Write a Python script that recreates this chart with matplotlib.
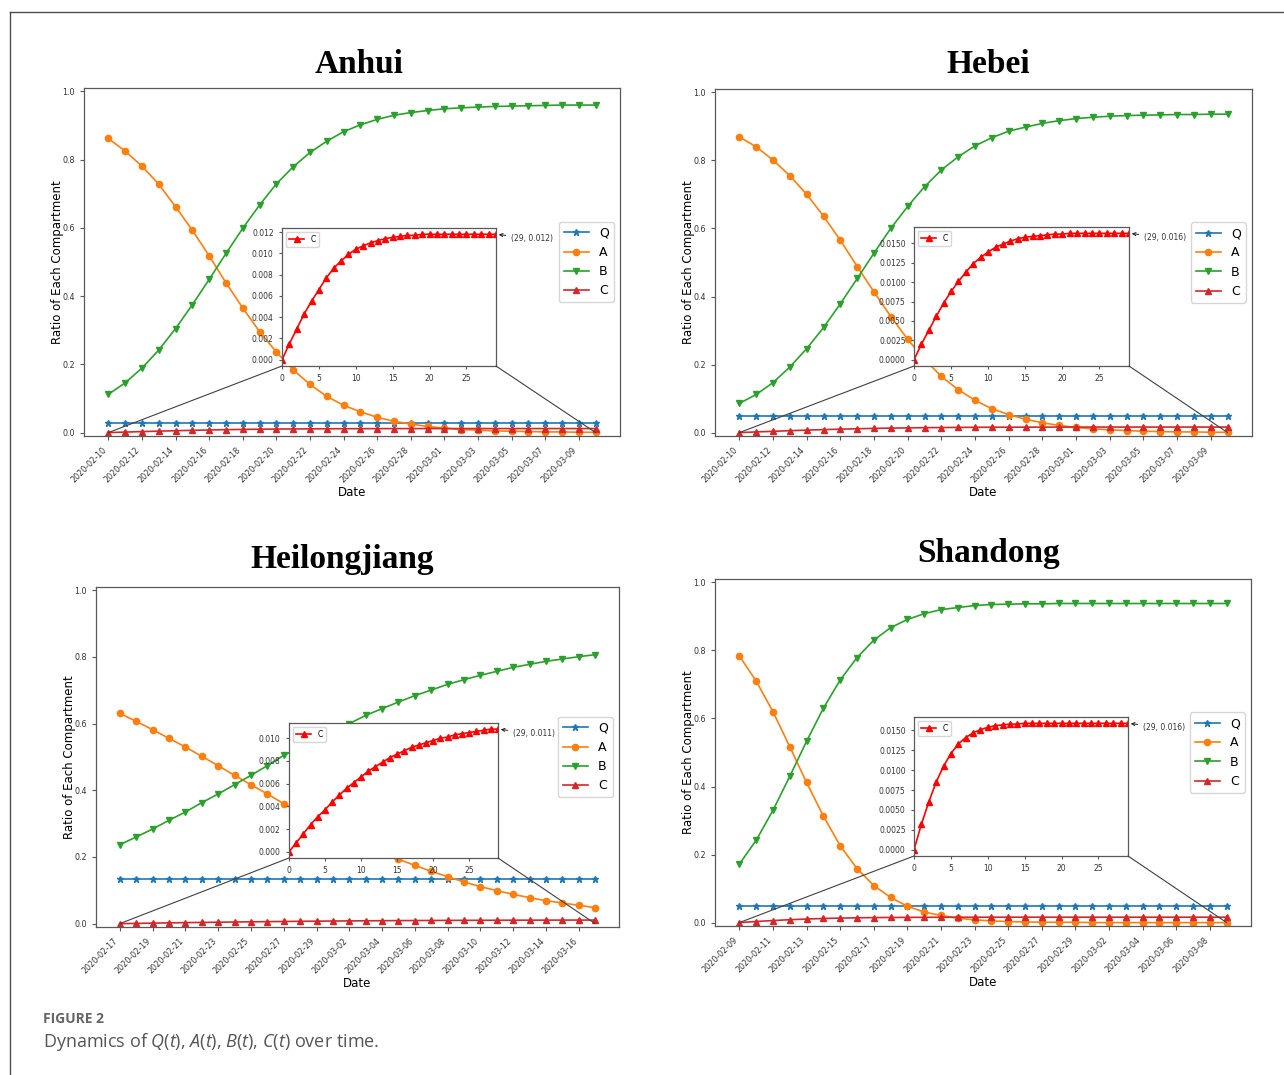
import numpy as np
import pandas as pd
import matplotlib
matplotlib.use('Agg')
import matplotlib.pyplot as plt
from matplotlib.patches import ConnectionPatch
from matplotlib.lines import Line2D
from matplotlib.ticker import MultipleLocator

plt.rcParams['font.family'] = 'DejaVu Sans'
plt.rcParams['mathtext.fontset'] = 'custom'
plt.rcParams['mathtext.rm'] = 'Open Sans'
plt.rcParams['mathtext.it'] = 'Open Sans:italic'

W, H = 1284, 1075

# ---- data (30 days per province) ----
anhui_start = '2020-02-10'
anhui_Q = [0.028] * 30
anhui_A = [0.862, 0.825, 0.781, 0.728, 0.662, 0.593, 0.518, 0.439, 0.365, 0.296,
           0.236, 0.184, 0.141, 0.106, 0.080, 0.061, 0.045, 0.033, 0.025, 0.018,
           0.013, 0.009, 0.007, 0.005, 0.004, 0.003, 0.002, 0.002, 0.001, 0.001]
anhui_B = [0.112, 0.146, 0.189, 0.242, 0.305, 0.375, 0.449, 0.525, 0.599, 0.667,
           0.729, 0.779, 0.821, 0.854, 0.882, 0.902, 0.918, 0.930, 0.938, 0.944,
           0.949, 0.952, 0.954, 0.956, 0.957, 0.958, 0.959, 0.960, 0.960, 0.960]
anhui_C = [0.0, 0.0015, 0.0029, 0.0043, 0.0055, 0.0066, 0.0077, 0.0086, 0.0093, 0.0099,
           0.0104, 0.0107, 0.0110, 0.0112, 0.0114, 0.0115, 0.0116, 0.0117, 0.0117, 0.0118,
           0.0118, 0.0118, 0.0118, 0.0118, 0.0118, 0.0118, 0.0118, 0.0118, 0.0118, 0.0118]

hebei_start = '2020-02-10'
hebei_Q = [0.048] * 30
hebei_A = [0.869, 0.840, 0.801, 0.755, 0.700, 0.636, 0.565, 0.488, 0.413, 0.341,
           0.274, 0.215, 0.165, 0.126, 0.095, 0.070, 0.053, 0.039, 0.029, 0.021,
           0.015, 0.011, 0.008, 0.006, 0.004, 0.003, 0.002, 0.002, 0.001, 0.001]
hebei_B = [0.086, 0.112, 0.147, 0.193, 0.247, 0.309, 0.379, 0.453, 0.528, 0.601,
           0.665, 0.723, 0.772, 0.811, 0.843, 0.867, 0.886, 0.898, 0.909, 0.917,
           0.923, 0.927, 0.930, 0.932, 0.933, 0.934, 0.935, 0.935, 0.936, 0.936]
hebei_C = [0.0, 0.0020, 0.0038, 0.0056, 0.0073, 0.0088, 0.0101, 0.0113, 0.0124, 0.0132,
           0.0139, 0.0145, 0.0149, 0.0153, 0.0156, 0.0158, 0.0159, 0.0160, 0.0161, 0.0162,
           0.0162, 0.0163, 0.0163, 0.0163, 0.0163, 0.0163, 0.0163, 0.0163, 0.0163, 0.0163]

heilongjiang_start = '2020-02-17'
heilongjiang_Q = [0.134] * 30
heilongjiang_A = [0.631, 0.607, 0.582, 0.556, 0.530, 0.502, 0.474, 0.445, 0.417, 0.389,
                  0.360, 0.334, 0.308, 0.283, 0.259, 0.236, 0.214, 0.193, 0.175, 0.157,
                  0.141, 0.125, 0.111, 0.099, 0.088, 0.078, 0.069, 0.062, 0.055, 0.048]
heilongjiang_B = [0.237, 0.260, 0.284, 0.310, 0.335, 0.363, 0.389, 0.417, 0.445, 0.474,
                  0.505, 0.530, 0.555, 0.578, 0.600, 0.625, 0.645, 0.665, 0.684, 0.701,
                  0.718, 0.732, 0.745, 0.757, 0.769, 0.778, 0.787, 0.794, 0.801, 0.807]
heilongjiang_C = [0.0, 0.0008, 0.0016, 0.0024, 0.0031, 0.0037, 0.0044, 0.0050, 0.0056, 0.0061,
                  0.0066, 0.0071, 0.0075, 0.0079, 0.0083, 0.0086, 0.0089, 0.0092, 0.0094, 0.0096,
                  0.0098, 0.0100, 0.0101, 0.0103, 0.0104, 0.0105, 0.0106, 0.0107, 0.0108, 0.0108]

shandong_start = '2020-02-09'
shandong_Q = [0.048] * 30
shandong_A = [0.784, 0.710, 0.620, 0.517, 0.412, 0.313, 0.226, 0.159, 0.109, 0.074,
              0.048, 0.031, 0.021, 0.013, 0.008, 0.005, 0.003, 0.002, 0.001, 0.001,
              0.001, 0.0, 0.0, 0.0, 0.0, 0.0, 0.0, 0.0, 0.0, 0.0]
shandong_B = [0.172, 0.242, 0.330, 0.430, 0.533, 0.630, 0.713, 0.779, 0.830, 0.867,
              0.891, 0.908, 0.920, 0.926, 0.932, 0.935, 0.936, 0.937, 0.937, 0.938,
              0.938, 0.938, 0.938, 0.938, 0.938, 0.938, 0.938, 0.938, 0.938, 0.938]
shandong_C = [0.0, 0.0032, 0.0060, 0.0085, 0.0105, 0.0121, 0.0133, 0.0141, 0.0147, 0.0151,
              0.0154, 0.0156, 0.0157, 0.0158, 0.0158, 0.0159, 0.0159, 0.0159, 0.0159, 0.0159,
              0.0159, 0.0159, 0.0159, 0.0159, 0.0159, 0.0159, 0.0159, 0.0159, 0.0159, 0.0159]


def px_rect(left, right, top, bottom):
    return [left / W, 1 - bottom / H, (right - left) / W, (bottom - top) / H]


def style_spines(ax):
    for s in ax.spines.values():
        s.set_color('0.35')
        s.set_linewidth(0.9)


def build_panel(fig, main_px, inset_px, title, title_px, start, Q, A, B, C,
                c_label, inset_step):
    ax = fig.add_axes(px_rect(*main_px))
    x = np.arange(len(A))
    ax.plot(x, Q, color='tab:blue', marker='*', ms=4.5, lw=1.2, label='Q')
    ax.plot(x, A, color='tab:orange', marker='o', ms=4.5, lw=1.2, label='A')
    ax.plot(x, B, color='tab:green', marker='v', ms=4.5, lw=1.2, label='B')
    ax.plot(x, C, color='tab:red', marker='^', ms=4.5, lw=1.2, label='C')
    ax.set_ylim(-0.01, 1.01)
    ax.set_yticks(np.arange(0, 1.01, 0.2))
    dates = pd.date_range(start, periods=len(A)).strftime('%Y-%m-%d')
    ax.set_xticks(x[::2])
    ax.set_xticklabels(dates[::2], rotation=45, ha='right')
    ax.tick_params(labelsize=5.8, labelcolor='0.2', color='0.35', length=3)
    ax.set_xlabel('Date', fontsize=8.5, labelpad=1)
    ax.set_ylabel('Ratio of Each Compartment', fontsize=8.5, labelpad=-1)
    ax.legend(loc='center right', fontsize=9)
    style_spines(ax)

    # zoomed inset of C
    ax_in = fig.add_axes(px_rect(*inset_px))
    ax_in.plot(x, C, color='red', marker='^', ms=4, lw=1.2, label='C')
    ax_in.set_xlim(0, x[-1])
    ax_in.set_xticks([0, 5, 10, 15, 20, 25])
    ax_in.yaxis.set_major_locator(MultipleLocator(inset_step))
    ax_in.tick_params(labelsize=5.5, labelcolor='0.2', color='0.35', length=2.5)
    ax_in.legend(loc='upper left', fontsize=5.5)
    ax_in.annotate(c_label, xy=(x[-1], C[-1]), xytext=(11, -3),
                   textcoords='offset points', ha='left', va='center',
                   fontsize=5.5, color='0.2',
                   arrowprops=dict(arrowstyle='->', color='0.1', lw=0.7))
    style_spines(ax_in)

    for corner, xd in ((0, x[0]), (1, x[-1])):
        con = ConnectionPatch(xyA=(corner, 0), coordsA=ax_in.transAxes,
                              xyB=(xd, 0), coordsB=ax.transData,
                              color='0.25', lw=0.8)
        fig.add_artist(con)

    fig.text(title_px[0] / W, 1 - title_px[1] / H, title, ha='center', va='baseline',
             fontsize=24, fontweight='bold', family='Liberation Serif')


fig = plt.figure(figsize=(W / 100, H / 100), dpi=100)

build_panel(fig, (84, 620, 88, 436), (282, 496, 228, 366), 'Anhui', (359, 73),
            anhui_start, anhui_Q, anhui_A, anhui_B, anhui_C, '(29, 0.012)', 0.002)
build_panel(fig, (715, 1252, 89, 436), (914, 1129, 227, 366), 'Hebei', (988, 73),
            hebei_start, hebei_Q, hebei_A, hebei_B, hebei_C, '(29, 0.016)', 0.0025)
build_panel(fig, (96, 619, 587, 927), (289, 498, 723, 858), 'Heilongjiang', (342, 568),
            heilongjiang_start, heilongjiang_Q, heilongjiang_A, heilongjiang_B,
            heilongjiang_C, '(29, 0.011)', 0.002)
build_panel(fig, (715, 1251, 579, 926), (914, 1128, 717, 856), 'Shandong', (989, 562),
            shandong_start, shandong_Q, shandong_A, shandong_B, shandong_C,
            '(29, 0.016)', 0.0025)

# outer frame (top and left edges)
fig.add_artist(Line2D([10 / W, 1], [1 - 12 / H, 1 - 12 / H], color='0.3', lw=1))
fig.add_artist(Line2D([10 / W, 10 / W], [1 - 12 / H, 0], color='0.3', lw=1))

fig.text(43 / W, 1 - 1023 / H, 'FIGURE 2', family='Open Sans', fontweight='bold',
         fontsize=10, color='#666666')
fig.text(43 / W, 1 - 1047 / H,
         'Dynamics of $Q$($t$), $A$($t$), $B$($t$), $C$($t$) over time.',
         family='Open Sans', fontsize=13, color='#555555')

fig.savefig('out.png', dpi=100)
